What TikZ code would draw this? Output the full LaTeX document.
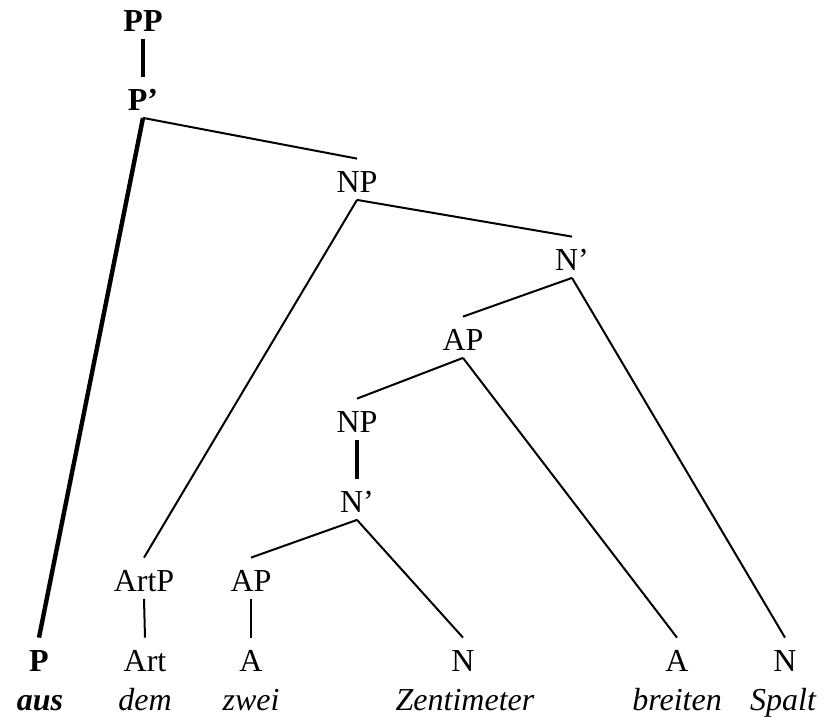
\documentclass[tikz,border=0pt]{standalone}
\usepackage{fontspec}
\setmainfont{Liberation Serif}
\begin{document}
\begin{tikzpicture}[x=0.5pt,y=-0.5pt,
  lab/.style={font=\fontsize{16}{19}\selectfont, inner sep=0pt, text height=16.5pt, text depth=3.75pt, anchor=base},
  blab/.style={lab, font=\fontsize{16}{19}\selectfont\bfseries},
  word/.style={font=\fontsize{16}{19}\selectfont\itshape, inner sep=0pt, anchor=base},
  bword/.style={word, font=\fontsize{16}{19}\selectfont\bfseries\itshape},
  thinline/.style={line width=1pt},
  heavyline/.style={line width=2.2pt},
  midline/.style={line width=1.8pt}]
\useasboundingbox (0,0) rectangle (825,720);
% labels
\node[blab] (PP) at (143,31) {PP};
\node[blab] (Pb) at (143,110) {P’};
\node[lab] (NP1) at (357,192) {NP};
\node[lab] (Nb1) at (572,270) {N’};
\node[lab] (AP1) at (463,350) {AP};
\node[lab] (NP2) at (357,432) {NP};
\node[lab] (Nb2) at (357,512) {N’};
\node[lab] (ArtP) at (144,591) {ArtP};
\node[lab] (AP2) at (251,591) {AP};
% terminals
\node[blab] (P) at (39,671) {P};
\node[lab] (Art) at (145,671) {Art};
\node[lab] (A1) at (251,671) {A};
\node[lab] (N1) at (463,671) {N};
\node[lab] (A2) at (677,671) {A};
\node[lab] (N2) at (785,671) {N};
% words
\node[bword] (w1) at (40,710) {aus};
\node[word] (w2) at (145,710) {dem};
\node[word] (w3) at (251,710) {zwei};
\node[word] (w4) at (465,710) {Zentimeter};
\node[word] (w5) at (677,710) {breiten};
\node[word] (w6) at (783,710) {Spalt};
% edges
\draw[heavyline] (PP.south) -- (Pb.north);
\draw[heavyline] (Pb.south) -- (P.north);
\draw[thinline] (Pb.south) -- (NP1.north);
\draw[thinline] (NP1.south) -- (ArtP.north);
\draw[thinline] (NP1.south) -- (Nb1.north);
\draw[thinline] (Nb1.south) -- (AP1.north);
\draw[thinline] (Nb1.south) -- (N2.north);
\draw[thinline] (AP1.south) -- (NP2.north);
\draw[thinline] (AP1.south) -- (A2.north);
\draw[midline] (NP2.south) -- (Nb2.north);
\draw[thinline] (Nb2.south) -- (AP2.north);
\draw[thinline] (Nb2.south) -- (N1.north);
\draw[thinline] (ArtP.south) -- (Art.north);
\draw[thinline] (AP2.south) -- (A1.north);
\end{tikzpicture}
\end{document}
